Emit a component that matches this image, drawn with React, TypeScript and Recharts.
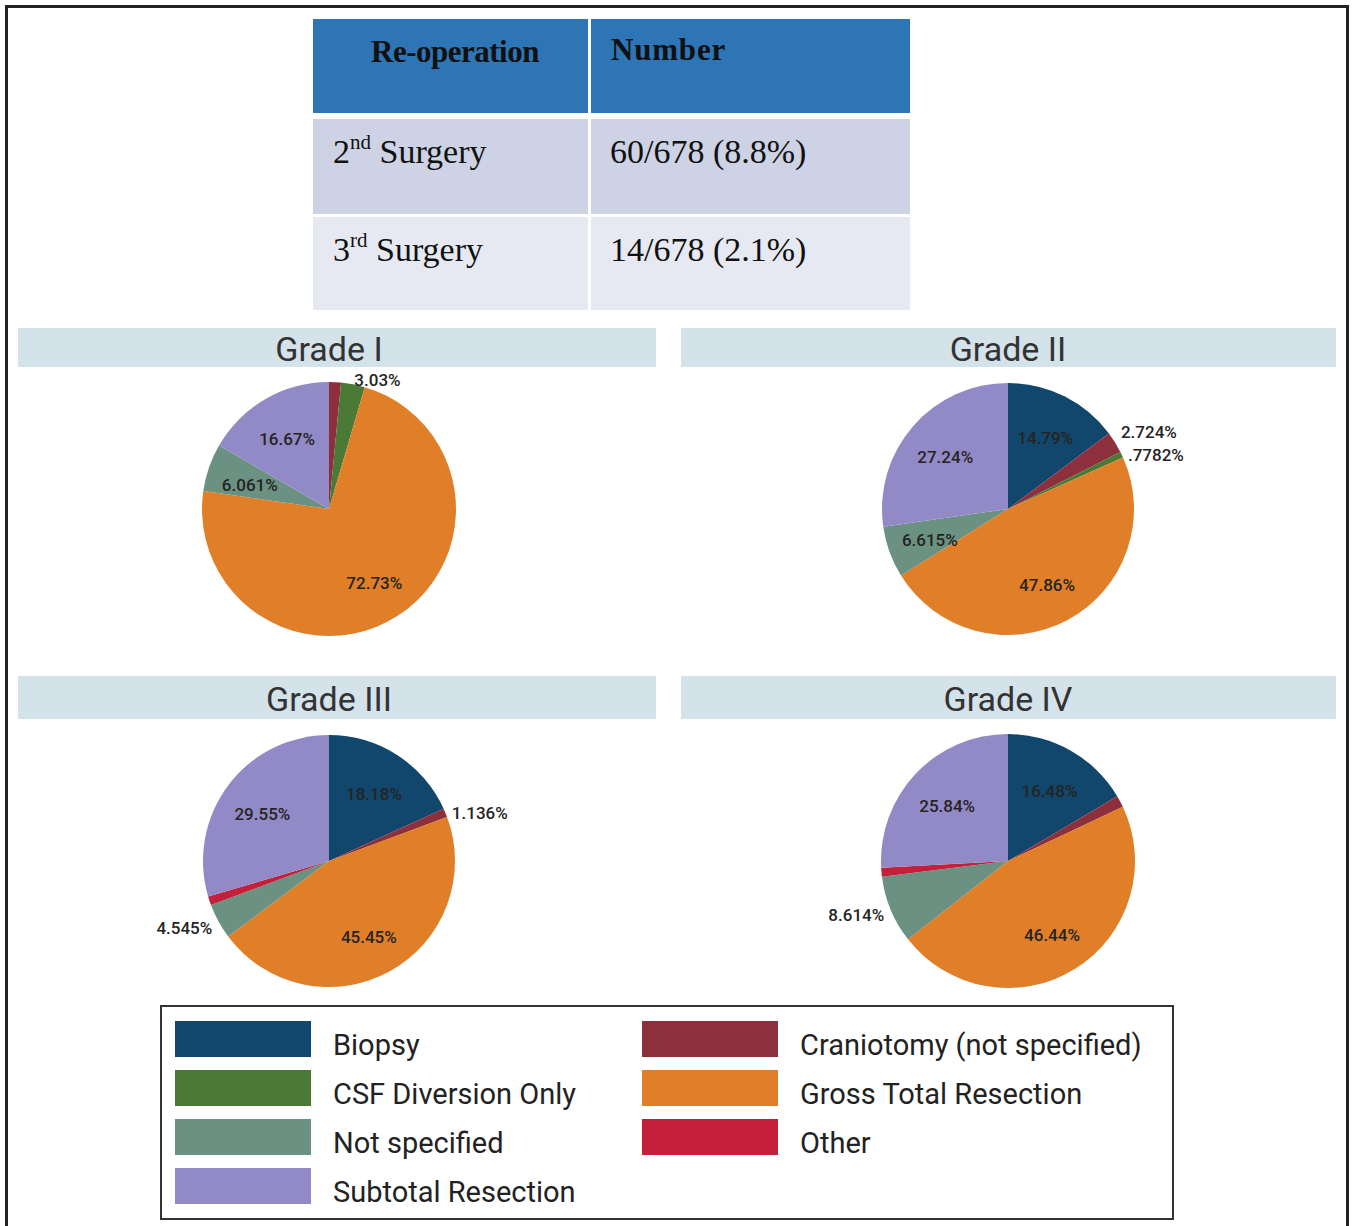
import React from 'react';
import { PieChart, Pie, Cell } from 'recharts';

// Resection categories, in slice / legend order
const categories = [
  'Biopsy',
  'Craniotomy (not specified)',
  'CSF Diversion Only',
  'Gross Total Resection',
  'Not specified',
  'Other',
  'Subtotal Resection',
];

const categoryColors = ['#11476c', '#8e2f3e', '#4a7a36', '#e07f27', '#6b9182', '#c41f3b', '#928ac6'];

// Percent of cases per category for each tumour grade
const gradeIValues = [0, 1.515, 3.03, 72.73, 6.061, 0, 16.67];
const gradeIIValues = [14.79, 2.724, 0.7782, 47.86, 6.615, 0, 27.24];
const gradeIIIValues = [18.18, 1.136, 0, 45.45, 4.545, 1.136, 29.55];
const gradeIVValues = [16.48, 1.498, 0, 46.44, 8.614, 1.124, 25.84];

// Where each slice's value label goes: inside, outside, or not shown
const gradeILabels = ['none', 'none', 'out', 'in', 'in', 'none', 'in'];
const gradeIILabels = ['in', 'out', 'out', 'in', 'in', 'none', 'in'];
const gradeIIILabels = ['in', 'out', 'none', 'in', 'out', 'none', 'in'];
const gradeIVLabels = ['in', 'none', 'none', 'in', 'out', 'none', 'in'];

// Re-operation table
const reopRows = [
  { n: '2', sup: 'nd', label: 'Surgery', count: '60/678 (8.8%)' },
  { n: '3', sup: 'rd', label: 'Surgery', count: '14/678 (2.1%)' },
];

const UI_FONT = 'Roboto, "DejaVu Sans", sans-serif';
const SERIF = '"Liberation Serif", "Times New Roman", serif';

const fmt = (v: number) => {
  const s = String(Number(v.toPrecision(4)));
  return s.startsWith('0.') ? s.slice(1) : s;
};

const RAD = Math.PI / 180;
const OUTSIDE_GAP = 7;
const MIN_LABEL_SPACING = 23;

type LabelPos = { dx: number; dy: number; anchor: 'start' | 'end' | 'middle' } | null;

// Label offsets from the pie centre; outside labels on the same side are
// pushed apart vertically so they never collide.
function layoutLabels(values: number[], placement: string[], radius: number): LabelPos[] {
  const total = values.reduce((a, b) => a + b, 0);
  let cum = 0;
  const out: LabelPos[] = values.map((v, i) => {
    const start = cum;
    cum += v;
    const mode = placement[i];
    if (!v || mode === 'none') return null;
    const mid = ((start + v / 2) / total) * 360; // clockwise from 12 o'clock
    const r = mode === 'out' ? radius + OUTSIDE_GAP : radius * 0.66;
    const dx = r * Math.sin(mid * RAD);
    const dy = -r * Math.cos(mid * RAD);
    const anchor = mode === 'out' ? (dx > 0 ? 'start' : 'end') : 'middle';
    return { dx, dy, anchor };
  });
  for (const side of ['start', 'end']) {
    const idx = out
      .map((p, i) => (p && p.anchor === side ? i : -1))
      .filter((i) => i >= 0)
      .sort((a, b) => (out[b] as any).dy - (out[a] as any).dy);
    for (let k = 1; k < idx.length; k++) {
      const lower = out[idx[k - 1]] as any;
      const upper = out[idx[k]] as any;
      if (lower.dy - upper.dy < MIN_LABEL_SPACING) upper.dy = lower.dy - MIN_LABEL_SPACING;
    }
  }
  return out;
}

const makeLabel = (positions: LabelPos[]) => (props: any) => {
  const { cx, cy, value, index } = props;
  const p = positions[index];
  if (!p) return null;
  return (
    <text
      x={cx + p.dx}
      y={cy + p.dy + 3}
      textAnchor={p.anchor}
      dominantBaseline="central"
      fontFamily={UI_FONT}
      fontSize={17}
      fontWeight={500}
      fill="#252423"
    >
      {fmt(value)}%
    </text>
  );
};

type GradePieProps = {
  title: string;
  values: number[];
  placement: string[];
  barLeft: number;
  barTop: number;
  barWidth: number;
  barHeight: number;
  cx: number;
  cy: number;
  radius: number;
};

function GradePie({ title, values, placement, barLeft, barTop, barWidth, barHeight, cx, cy, radius }: GradePieProps) {
  const data = categories.map((name, i) => ({ name, value: values[i] }));
  const positions = layoutLabels(values, placement, radius);
  const w = 420;
  const h = 320;
  return (
    <>
      <div
        style={{
          position: 'absolute',
          left: barLeft,
          top: barTop,
          width: barWidth,
          height: barHeight,
          background: '#d4e2ea',
        }}
      >
        <div
          style={{
            position: 'absolute',
            left: cx - barLeft - 150,
            width: 300,
            top: 2,
            height: barHeight,
            lineHeight: `${barHeight}px`,
            textAlign: 'center',
            fontFamily: UI_FONT,
            fontSize: 34,
            color: '#333',
          }}
        >
          {title}
        </div>
      </div>
      <div style={{ position: 'absolute', left: cx - w / 2, top: cy - h / 2 }}>
        <PieChart width={w} height={h} margin={{ top: 0, right: 0, bottom: 0, left: 0 }}>
          <Pie
            data={data}
            dataKey="value"
            nameKey="name"
            cx={w / 2}
            cy={h / 2}
            outerRadius={radius}
            startAngle={90}
            endAngle={-270}
            stroke="none"
            labelLine={false}
            label={makeLabel(positions)}
            isAnimationActive={false}
          >
            {data.map((d, i) => (
              <Cell key={d.name} fill={categoryColors[i]} />
            ))}
          </Pie>
        </PieChart>
      </div>
    </>
  );
}

function ReopTable() {
  const cell = (left: number, top: number, width: number, height: number, bg: string) => ({
    position: 'absolute' as const,
    left,
    top,
    width,
    height,
    background: bg,
  });
  const rowTops = [119, 217];
  const rowHeights = [95, 93];
  const rowColors = ['#cdd3e4', '#e6e9f2'];
  const headText = {
    position: 'absolute' as const,
    fontFamily: SERIF,
    fontWeight: 'bold' as const,
    fontSize: 31,
    color: '#111',
    whiteSpace: 'nowrap' as const,
  };
  const bodyText = {
    position: 'absolute' as const,
    top: 14,
    fontFamily: SERIF,
    fontSize: 34,
    color: '#111',
    whiteSpace: 'nowrap' as const,
  };
  return (
    <>
      <div style={cell(313, 19, 275, 94, '#2e75b6')}>
        <div style={{ ...headText, left: 58, top: 15, letterSpacing: '-0.5px' }}>Re-operation</div>
      </div>
      <div style={cell(591, 19, 319, 94, '#2e75b6')}>
        <div style={{ ...headText, left: 20, top: 13, letterSpacing: '0.8px' }}>Number</div>
      </div>
      {reopRows.map((r, i) => (
        <React.Fragment key={r.n}>
          <div style={cell(313, rowTops[i], 275, rowHeights[i], rowColors[i])}>
            <div style={{ ...bodyText, left: 20 }}>
              {r.n}
              <sup style={{ fontSize: 21, verticalAlign: 'top', position: 'relative', top: -3 }}>{r.sup}</sup> {r.label}
            </div>
          </div>
          <div style={cell(591, rowTops[i], 319, rowHeights[i], rowColors[i])}>
            <div style={{ ...bodyText, left: 19 }}>{r.count}</div>
          </div>
        </React.Fragment>
      ))}
    </>
  );
}

function LegendBox() {
  const colLeft = [175, 642];
  const rowTop = [1021, 1070, 1119, 1168];
  return (
    <>
      <div
        style={{
          position: 'absolute',
          left: 160,
          top: 1005,
          width: 1010,
          height: 211,
          border: '2px solid #333',
        }}
      />
      {categories.map((name, i) => {
        const col = i % 2;
        const row = Math.floor(i / 2);
        return (
          <React.Fragment key={name}>
            <div
              style={{
                position: 'absolute',
                left: colLeft[col],
                top: rowTop[row],
                width: 136,
                height: 36,
                background: categoryColors[i],
              }}
            />
            <div
              style={{
                position: 'absolute',
                left: colLeft[col] + 158,
                top: rowTop[row] + 6,
                height: 36,
                lineHeight: '36px',
                fontFamily: UI_FONT,
                fontSize: 29,
                color: '#222',
                whiteSpace: 'nowrap',
              }}
            >
              {name}
            </div>
          </React.Fragment>
        );
      })}
    </>
  );
}

export default function App() {
  return (
    <div
      style={{
        position: 'absolute',
        left: 0,
        top: 0,
        width: 1352,
        height: 1226,
        background: '#fff',
        overflow: 'hidden',
      }}
    >
      {/* outer frame, open at the bottom */}
      <div
        style={{
          position: 'absolute',
          left: 5,
          top: 5,
          width: 1338,
          height: 1240,
          border: '3px solid #222',
        }}
      />
      <ReopTable />
      <GradePie
        title="Grade I"
        values={gradeIValues}
        placement={gradeILabels}
        barLeft={18}
        barTop={328}
        barWidth={638}
        barHeight={39}
        cx={329}
        cy={509}
        radius={127}
      />
      <GradePie
        title="Grade II"
        values={gradeIIValues}
        placement={gradeIILabels}
        barLeft={681}
        barTop={328}
        barWidth={655}
        barHeight={39}
        cx={1008}
        cy={509}
        radius={126}
      />
      <GradePie
        title="Grade III"
        values={gradeIIIValues}
        placement={gradeIIILabels}
        barLeft={18}
        barTop={676}
        barWidth={638}
        barHeight={43}
        cx={329}
        cy={861}
        radius={126}
      />
      <GradePie
        title="Grade IV"
        values={gradeIVValues}
        placement={gradeIVLabels}
        barLeft={681}
        barTop={676}
        barWidth={655}
        barHeight={43}
        cx={1008}
        cy={861}
        radius={127}
      />
      <LegendBox />
    </div>
  );
}
